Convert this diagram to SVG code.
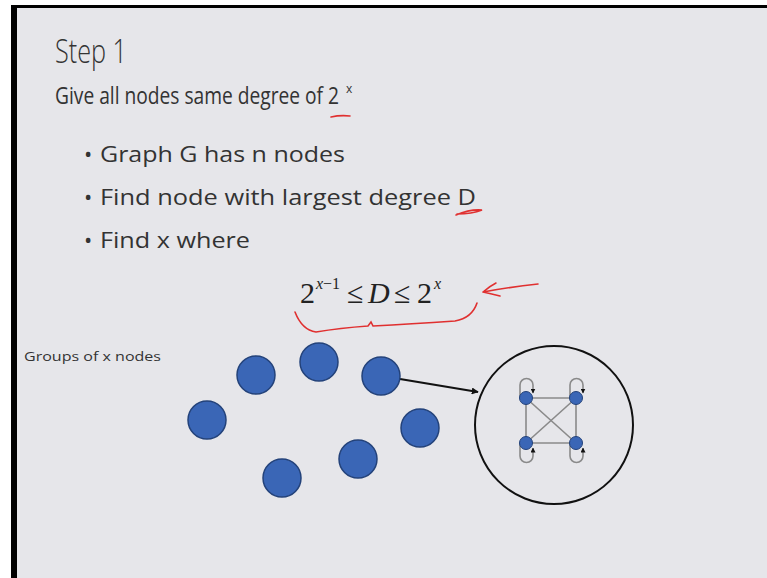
<svg xmlns="http://www.w3.org/2000/svg" width="767" height="578" viewBox="0 0 767 578">
<defs>
<style>
.sans{font-family:"Open Sans","Noto Sans",sans-serif;fill:#333;}
.serif{font-family:"Liberation Serif",serif;fill:#222;}
.node{fill:#3a66b6;stroke:#23427a;stroke-width:1.5;}
.inode{fill:#3a66b6;stroke:#23427a;stroke-width:1;}
.gl{fill:none;stroke:#8a8a8a;stroke-width:1.6;}
.red{fill:none;stroke:#e03030;stroke-width:1.6;stroke-linecap:round;}
</style>
<marker id="ah" viewBox="0 0 10 10" refX="9" refY="5" markerWidth="7" markerHeight="7" orient="auto" markerUnits="userSpaceOnUse">
<path d="M0,0 L10,5 L0,10 z" fill="#111"/>
</marker>
<marker id="sh" viewBox="0 0 10 10" refX="9" refY="5" markerWidth="5" markerHeight="5" orient="auto" markerUnits="userSpaceOnUse">
<path d="M0,0 L10,5 L0,10 z" fill="#111"/>
</marker>
</defs>
<rect width="767" height="578" fill="#ffffff"/>
<rect x="11" y="5" width="756" height="573" fill="#000"/>
<rect x="17" y="8" width="750" height="570" fill="#e6e6ea"/>

<g id="title">
<text class="sans" x="55" y="63" font-size="33" font-weight="300" fill="#2e2e2e" textLength="72" lengthAdjust="spacingAndGlyphs">Step 1</text>
<text class="sans" transform="translate(55 104) scale(0.8 1)" x="0" y="0" font-size="24" fill="#404040">Give all nodes same degree of 2</text>
<text class="sans" x="346" y="93" font-size="12" fill="#404040">x</text>
<path class="red" d="M331,117 Q340,115 350,116"/>
</g>

<g id="bullets">
<text class="sans" x="84" y="162" font-size="22">•</text>
<text class="sans" x="100" y="162" font-size="22" textLength="245" lengthAdjust="spacingAndGlyphs">Graph G has n nodes</text>
<text class="sans" x="84" y="205" font-size="22">•</text>
<text class="sans" x="100" y="205" font-size="22" textLength="376" lengthAdjust="spacingAndGlyphs">Find node with largest degree D</text>
<text class="sans" x="84" y="248" font-size="22">•</text>
<text class="sans" x="100" y="248" font-size="22" textLength="150" lengthAdjust="spacingAndGlyphs">Find x where</text>
<path class="red" d="M456,215 Q470,209 482,210 Q472,214 457,214"/>
</g>

<g id="formula">
<text class="serif" x="300" y="303" font-size="30">2</text>
<text class="serif" x="316" y="289" font-size="16" font-style="italic">x</text>
<text class="serif" x="323" y="289" font-size="16">−1</text>
<text class="serif" x="347" y="303" font-size="30">≤</text>
<text class="serif" x="368" y="303" font-size="30" font-style="italic">D</text>
<text class="serif" x="394" y="303" font-size="30">≤</text>
<text class="serif" x="417" y="303" font-size="30">2</text>
<text class="serif" x="434" y="289" font-size="16" font-style="italic">x</text>
<path class="red" d="M538,284 Q510,287 483,292 M483,292 Q490,286 496,283 M483,292 Q492,294 500,296"/>
<path class="red" d="M295,312 Q302,330 316,332 Q340,328 368,326 L371,322 L373,326 Q410,324 455,321 Q472,318 477,303"/>
</g>

<text class="sans" x="24" y="361" font-size="13.5" textLength="137" lengthAdjust="spacingAndGlyphs" fill="#444">Groups of x nodes</text>

<g id="connectors">
<line x1="400" y1="379" x2="478" y2="392" stroke="#111" stroke-width="2" marker-end="url(#ah)"/>
</g>

<g id="n1"><circle class="node" cx="256" cy="375" r="19"/></g>
<g id="n2"><circle class="node" cx="319" cy="362" r="19"/></g>
<g id="n3"><circle class="node" cx="381" cy="376" r="19"/></g>
<g id="n4"><circle class="node" cx="207" cy="420" r="19"/></g>
<g id="n5"><circle class="node" cx="420" cy="428" r="19"/></g>
<g id="n6"><circle class="node" cx="358" cy="459" r="19"/></g>
<g id="n7"><circle class="node" cx="282" cy="478" r="19"/></g>

<g id="group-detail">
<circle cx="554" cy="425" r="79" fill="none" stroke="#111" stroke-width="2"/>
<line class="gl" x1="526" y1="398" x2="576" y2="398"/>
<line class="gl" x1="526" y1="443" x2="576" y2="443"/>
<line class="gl" x1="526" y1="398" x2="526" y2="443"/>
<line class="gl" x1="576" y1="398" x2="576" y2="443"/>
<line class="gl" x1="526" y1="398" x2="576" y2="443"/>
<line class="gl" x1="576" y1="398" x2="526" y2="443"/>
<path class="gl" d="M520,398 L520,385 A6.5,6.5 0 0 1 533,385 L533,393" marker-end="url(#sh)"/>
<path class="gl" d="M570,398 L570,385 A6.5,6.5 0 0 1 583,385 L583,393" marker-end="url(#sh)"/>
<path class="gl" d="M520,443 L520,456 A6.5,6.5 0 0 0 533,456 L533,448" marker-end="url(#sh)"/>
<path class="gl" d="M570,443 L570,456 A6.5,6.5 0 0 0 583,456 L583,448" marker-end="url(#sh)"/>
<circle class="inode" cx="526" cy="398" r="6.5"/>
<circle class="inode" cx="576" cy="398" r="6.5"/>
<circle class="inode" cx="526" cy="443" r="6.5"/>
<circle class="inode" cx="576" cy="443" r="6.5"/>
</g>
</svg>
